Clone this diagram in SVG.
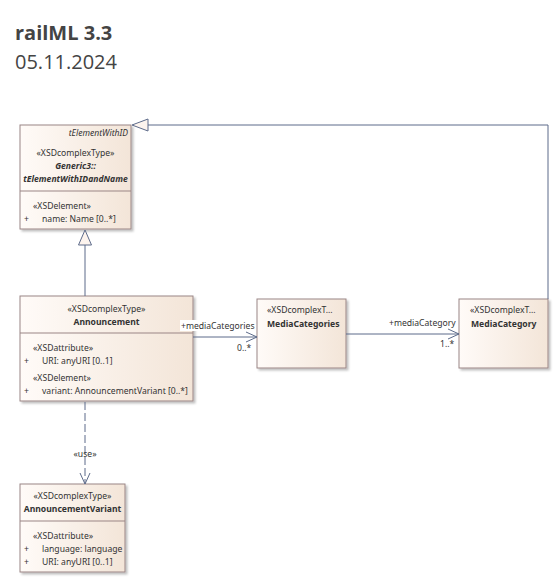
<svg xmlns="http://www.w3.org/2000/svg" width="558" height="583" viewBox="0 0 558 583">
  <defs>
    <linearGradient id="boxFill" x1="0" y1="0" x2="1" y2="0">
      <stop offset="0" stop-color="#fffbf8"/>
      <stop offset="1" stop-color="#f3e5d8"/>
    </linearGradient>
    <filter id="shadow" x="-10%" y="-10%" width="130%" height="130%">
      <feOffset dx="2" dy="2" in="SourceAlpha" result="o"/>
      <feGaussianBlur in="o" stdDeviation="1" result="b"/>
      <feFlood flood-color="#000" flood-opacity="0.25"/>
      <feComposite in2="b" operator="in" result="s"/>
      <feMerge><feMergeNode in="s"/><feMergeNode in="SourceGraphic"/></feMerge>
    </filter>
    <marker id="open" viewBox="0 0 12 12" refX="11" refY="6" markerWidth="12" markerHeight="12" markerUnits="userSpaceOnUse" orient="auto">
      <path d="M0,1 L11,6 L0,11" fill="none" stroke="#5d6b8a" stroke-width="1"/>
    </marker>
  </defs>
  <style>
    .box { fill: url(#boxFill); stroke: #9a8585; stroke-width: 1; filter: url(#shadow); }
    .div { stroke: #9a8585; stroke-width: 1; }
    .t { font-family: "Noto Sans", "Open Sans", sans-serif; font-size: 8.6px; fill: #333; }
    .c { text-anchor: middle; }
    .b { font-weight: bold; }
    .i { font-style: italic; }
    .line { fill: none; stroke: #5d6b8a; stroke-width: 1; }
    .gen { fill: #fdf4ee; stroke: #5d6b8a; stroke-width: 1; }
    .title { font-family: "Open Sans", "Noto Sans", sans-serif; font-size: 20px; fill: #444; }
  </style>

  <text class="title" x="15" y="40" font-weight="bold">railML 3.3</text>
  <text class="title" x="15" y="69">05.11.2024</text>

  <g id="tElementWithIDandName">
    <rect class="box" x="20" y="125" width="111" height="104"/>
    <line class="div" x1="20" y1="191" x2="131" y2="191"/>
    <text class="t i" x="128" y="136" text-anchor="end">tElementWithID</text>
    <text class="t c" x="75.5" y="156">«XSDcomplexType»</text>
    <text class="t c b i" x="75.5" y="169">Generic3::</text>
    <text class="t c b i" x="75.5" y="182">tElementWithIDandName</text>
    <text class="t" x="33" y="209">«XSDelement»</text>
    <text class="t" x="24" y="222">+</text>
    <text class="t" x="42" y="222">name: Name [0..*]</text>
  </g>

  <g id="Announcement">
    <rect class="box" x="20" y="296" width="173" height="105"/>
    <line class="div" x1="20" y1="333" x2="193" y2="333"/>
    <text class="t c" x="106.5" y="312">«XSDcomplexType»</text>
    <text class="t c b" x="106.5" y="325">Announcement</text>
    <text class="t" x="33" y="351">«XSDattribute»</text>
    <text class="t" x="24" y="364">+</text>
    <text class="t" x="42" y="364">URI: anyURI [0..1]</text>
    <text class="t" x="33" y="381">«XSDelement»</text>
    <text class="t" x="24" y="394">+</text>
    <text class="t" x="42" y="394">variant: AnnouncementVariant [0..*]</text>
  </g>

  <g id="MediaCategories">
    <rect class="box" x="257" y="299" width="89" height="69"/>
    <text class="t" x="267" y="313">«XSDcomplexT…</text>
    <text class="t b" x="267" y="327">MediaCategories</text>
  </g>

  <g id="MediaCategory">
    <rect class="box" x="459" y="299" width="89" height="69"/>
    <text class="t" x="470" y="313">«XSDcomplexT…</text>
    <text class="t b" x="471" y="327">MediaCategory</text>
  </g>

  <g id="AnnouncementVariant">
    <rect class="box" x="20" y="484" width="105" height="88"/>
    <line class="div" x1="20" y1="521" x2="125" y2="521"/>
    <text class="t c" x="72.5" y="499">«XSDcomplexType»</text>
    <text class="t c b" x="72.5" y="512">AnnouncementVariant</text>
    <text class="t" x="33" y="539">«XSDattribute»</text>
    <text class="t" x="24" y="552">+</text>
    <text class="t" x="42" y="552">language: language</text>
    <text class="t" x="24" y="565">+</text>
    <text class="t" x="42" y="565">URI: anyURI [0..1]</text>
  </g>

  <!-- connectors, drawn over the nodes so their labels stay readable -->
  <g id="connectors">
    <!-- generalization MediaCategory -> tElementWithIDandName -->
    <polyline class="line" points="548,299 548,125 148,125"/>
    <polygon class="gen" points="132,125 148,119 148,131"/>
    <!-- generalization Announcement -> tElementWithIDandName -->
    <line class="line" x1="85" y1="296" x2="85" y2="245"/>
    <polygon class="gen" points="85,230 78.5,245 91.5,245"/>
    <!-- Announcement -> MediaCategories -->
    <line class="line" x1="193" y1="337" x2="257" y2="337" marker-end="url(#open)"/>
    <!-- MediaCategories -> MediaCategory -->
    <line class="line" x1="346" y1="334" x2="459" y2="334" marker-end="url(#open)"/>
    <!-- use dependency -->
    <line class="line" x1="85" y1="402" x2="85" y2="484" stroke-dasharray="8,3" marker-end="url(#open)"/>
    <rect x="180" y="320" width="75" height="11" fill="#fff"/>
    <text class="t" x="181" y="328.5">+mediaCategories</text>
    <text class="t" x="237" y="351">0..*</text>
    <text class="t" x="389" y="326">+mediaCategory</text>
    <text class="t" x="440" y="347">1..*</text>
    <text class="t c" x="85" y="457">«use»</text>
  </g>
</svg>
